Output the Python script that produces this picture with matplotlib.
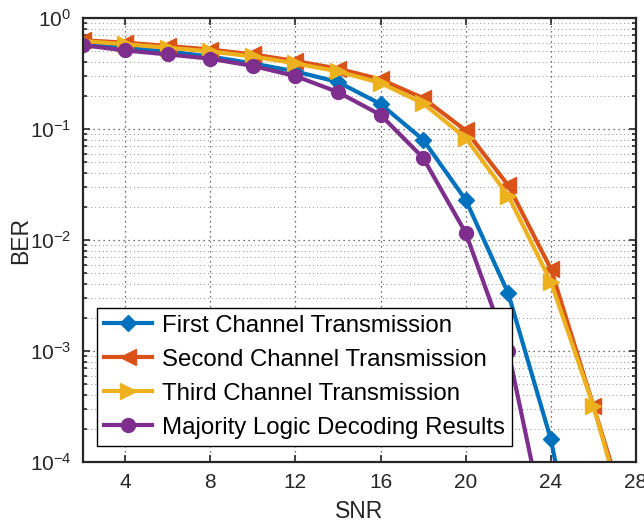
import numpy as np
import matplotlib
matplotlib.use("Agg")
import matplotlib.pyplot as plt
from matplotlib.ticker import LogLocator, FixedLocator, NullFormatter

plt.rcParams['font.family'] = ['Liberation Sans', 'DejaVu Sans']
plt.rcParams['mathtext.fontset'] = 'custom'
plt.rcParams['mathtext.rm'] = 'Liberation Sans'
plt.rcParams['mathtext.it'] = 'Liberation Sans'

snr = [2, 4, 6, 8, 10, 12, 14, 16, 18, 20, 22, 24, 26, 28]
ber_first = [0.60, 0.54, 0.50, 0.45, 0.39, 0.33, 0.265, 0.168, 0.080, 0.023, 0.0033, 1.6e-4, 2e-6, np.nan]
ber_second = [0.63, 0.60, 0.56, 0.52, 0.47, 0.41, 0.35, 0.28, 0.19, 0.097, 0.031, 0.0055, 3.2e-4, 1.8e-5]
ber_third = [0.62, 0.58, 0.54, 0.50, 0.45, 0.39, 0.33, 0.26, 0.17, 0.083, 0.025, 0.0042, 3.2e-4, 1.4e-5]
ber_majority = [0.57, 0.51, 0.47, 0.43, 0.37, 0.30, 0.215, 0.134, 0.055, 0.0116, 0.0010, 1.5e-5, np.nan, np.nan]

labels = ['First Channel Transmission', 'Second Channel Transmission',
          'Third Channel Transmission', 'Majority Logic Decoding Results']
colors = ['#0072BD', '#D95319', '#EDB120', '#7E2F8E']
markers = ['D', '<', '>', 'o']
msizes = [8, 12, 12, 10]

fig = plt.figure(figsize=(6.44, 5.29), dpi=100)
ax = fig.add_axes([82.5/644, 1 - 462/529, (636-82.5)/644, (462-18)/529])

for y, lab, c, m, ms in zip([ber_first, ber_second, ber_third, ber_majority], labels, colors, markers, msizes):
    ax.semilogy(snr, y, color=c, marker=m, markersize=ms, linewidth=3, label=lab,
                markeredgecolor=c, markerfacecolor=c)

ax.set_xlim(2, 28)
ax.set_ylim(1e-4, 1)
ax.xaxis.set_major_locator(FixedLocator([4, 8, 12, 16, 20, 24, 28]))
ax.yaxis.set_major_locator(LogLocator(base=10, numticks=10))
ax.yaxis.set_minor_locator(LogLocator(base=10, subs=np.arange(2, 10), numticks=50))
ax.yaxis.set_minor_formatter(NullFormatter())

ax.grid(True, which='major', linestyle=(0, (1, 3)), color='#404040', linewidth=0.9)
ax.grid(True, which='minor', axis='y', linestyle=(0, (1, 3)), color='#909090', linewidth=0.7)

ax.tick_params(which='both', direction='in', top=True, right=True, labelsize=15, colors='#262626',
               width=1.2)
ax.tick_params(which='major', length=5, pad=8)
ax.tick_params(which='minor', length=3)
for s in ax.spines.values():
    s.set_linewidth(1.6)
    s.set_color('#262626')

ax.set_xlabel('SNR', fontsize=16.5, color='#262626', labelpad=6)
ax.set_ylabel('BER', fontsize=16.5, color='#262626', labelpad=-2)

leg = ax.legend(loc='lower left', bbox_to_anchor=(0.026, 0.036), fontsize=17.3, frameon=True,
                fancybox=False, edgecolor='black', framealpha=1, handlelength=2.0,
                handletextpad=0.4, borderpad=0.3, labelspacing=0.5, borderaxespad=0)
leg.get_frame().set_linewidth(1.0)

fig.savefig('out.png', dpi=100)
